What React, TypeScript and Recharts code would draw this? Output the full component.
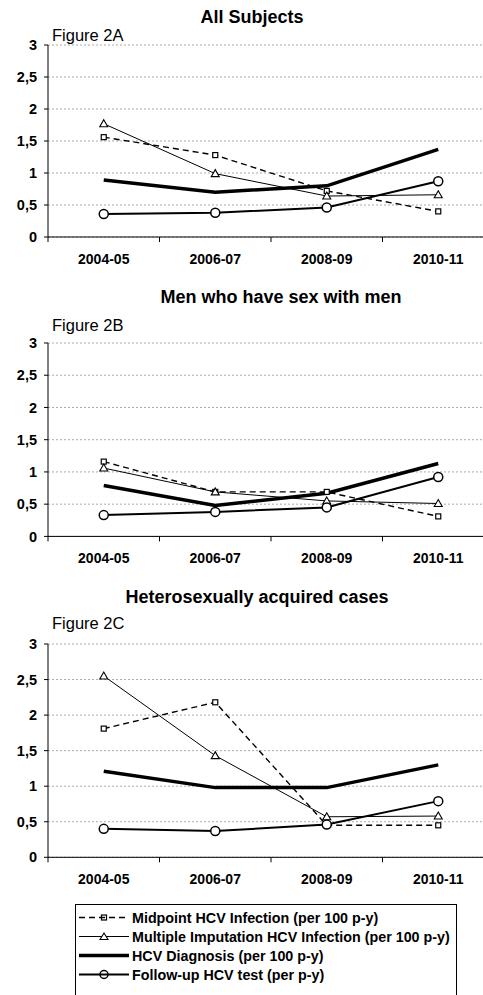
import React from 'react';
import { LineChart, Line, XAxis, YAxis, CartesianGrid } from 'recharts';

const periods = ['2004-05', '2006-07', '2008-09', '2010-11'];
const yTicks = [0, 0.5, 1, 1.5, 2, 2.5, 3];

const seriesNames = [
  'Midpoint HCV Infection (per 100 p-y)',
  'Multiple Imputation HCV Infection (per 100 p-y)',
  'HCV Diagnosis (per 100 p-y)',
  'Follow-up HCV test (per p-y)',
];

// Figure 2A - all subjects
const allMidpoint = [1.56, 1.28, 0.72, 0.4];
const allImputation = [1.77, 0.99, 0.64, 0.66];
const allDiagnosis = [0.89, 0.7, 0.8, 1.37];
const allFollowUp = [0.36, 0.38, 0.46, 0.87];

// Figure 2B - MSM
const msmMidpoint = [1.16, 0.69, 0.69, 0.31];
const msmImputation = [1.06, 0.69, 0.55, 0.51];
const msmDiagnosis = [0.79, 0.48, 0.67, 1.13];
const msmFollowUp = [0.33, 0.38, 0.45, 0.92];

// Figure 2C - heterosexual
const hetMidpoint = [1.81, 2.18, 0.45, 0.45];
const hetImputation = [2.55, 1.43, 0.57, 0.58];
const hetDiagnosis = [1.21, 0.98, 0.98, 1.3];
const hetFollowUp = [0.4, 0.37, 0.46, 0.79];

const FONT = '"Liberation Sans", Arial, sans-serif';
const CHART_W = 500;
const M_LEFT = 8;
const Y_W = 40;
const M_RIGHT = 6;
const PLOT_W = CHART_W - M_LEFT - Y_W - M_RIGHT;
const HALF_BAND = PLOT_W / periods.length / 2;

const buildRows = (mid: number[], mi: number[], diag: number[], fu: number[]) =>
  periods.map((p, i) => ({ period: p, mid: mid[i], mi: mi[i], diag: diag[i], fu: fu[i] }));

const SquareDot = (p: any) => (
  <rect key={`sq-${p.index}`} x={p.cx - 2.5} y={p.cy - 2.5} width={5} height={5} fill="#fff" stroke="#000" strokeWidth={1.2} />
);

const TriangleDot = (p: any) => (
  <path
    key={`tr-${p.index}`}
    d={`M${p.cx},${p.cy - 4} L${p.cx + 4},${p.cy + 3} L${p.cx - 4},${p.cy + 3} Z`}
    fill="#fff"
    stroke="#000"
    strokeWidth={1.1}
  />
);

const CircleDot = (p: any) => (
  <circle key={`ci-${p.index}`} cx={p.cx} cy={p.cy} r={4.5} fill="#fff" stroke="#000" strokeWidth={1.5} />
);

const XTick = (props: any) => {
  const { x, y, payload, index } = props;
  return (
    <g>
      <line x1={x - HALF_BAND} x2={x - HALF_BAND} y1={y} y2={y + 5} stroke="#000" />
      {index === periods.length - 1 && <line x1={x + HALF_BAND} x2={x + HALF_BAND} y1={y} y2={y + 5} stroke="#000" />}
      <text x={x} y={y + 22} textAnchor="middle" dominantBaseline="central" fontWeight="bold" fontSize={14} fontFamily={FONT} fill="#000">
        {payload.value}
      </text>
    </g>
  );
};

type PanelProps = {
  title: string;
  label: string;
  rows: any[];
  plotTop: number;
  plotBottom: number;
  titleX: number;
  titleY: number;
  labelY: number;
};

const Panel: React.FC<PanelProps> = ({ title, label, rows, plotTop, plotBottom, titleX, titleY, labelY }) => {
  const plotH = plotBottom - plotTop;
  return (
    <>
      <div style={{ position: 'absolute', left: titleX - 200, width: 400, top: titleY - 9, textAlign: 'center', fontSize: 18, fontWeight: 'bold', lineHeight: '18px' }}>
        {title}
      </div>
      <div style={{ position: 'absolute', left: 52, top: labelY - 8, fontSize: 16.5, lineHeight: '16.5px' }}>{label}</div>
      <div style={{ position: 'absolute', left: 0, top: plotTop - 10 }}>
        <LineChart width={CHART_W} height={plotH + 50} data={rows} margin={{ top: 10, right: M_RIGHT, bottom: 0, left: M_LEFT }}>
          <CartesianGrid horizontal vertical={false} stroke="#aaa" strokeDasharray="2 2" />
          <XAxis
            dataKey="period"
            height={40}
            interval={0}
            padding={{ left: HALF_BAND, right: HALF_BAND }}
            axisLine={{ stroke: '#000' }}
            tickLine={false}
            tickSize={0}
            tickMargin={0}
            tick={<XTick />}
          />
          <YAxis
            type="number"
            domain={[0, 3]}
            ticks={yTicks}
            width={Y_W}
            axisLine={{ stroke: '#000' }}
            tickLine={{ stroke: '#000' }}
            tickSize={4}
            tickMargin={7}
            tickFormatter={(v: number) => String(v).replace('.', ',')}
            tick={{ fill: '#000', fontSize: 14.5, fontWeight: 'bold', fontFamily: FONT }}
          />
          <Line name={seriesNames[2]} dataKey="diag" stroke="#000" strokeWidth={3.5} dot={false} isAnimationActive={false} />
          <Line name={seriesNames[0]} dataKey="mid" stroke="#000" strokeWidth={1.4} strokeDasharray="6 4" dot={SquareDot} isAnimationActive={false} />
          <Line name={seriesNames[1]} dataKey="mi" stroke="#000" strokeWidth={1} dot={TriangleDot} isAnimationActive={false} />
          <Line name={seriesNames[3]} dataKey="fu" stroke="#000" strokeWidth={2} dot={CircleDot} isAnimationActive={false} />
        </LineChart>
      </div>
    </>
  );
};

const LegendSample = ({ index }: { index: number }) => (
  <svg width={50} height={19} style={{ display: 'block', flex: 'none' }}>
    {index === 0 && <line x1={0} x2={50} y1={9.5} y2={9.5} stroke="#000" strokeWidth={1.4} strokeDasharray="6 4" />}
    {index === 1 && <line x1={0} x2={50} y1={9.5} y2={9.5} stroke="#000" strokeWidth={1} />}
    {index === 2 && <line x1={0} x2={50} y1={9.5} y2={9.5} stroke="#000" strokeWidth={3.5} />}
    {index === 3 && <line x1={0} x2={50} y1={9.5} y2={9.5} stroke="#000" strokeWidth={2} />}
    {index === 0 && <rect x={22.5} y={7} width={5} height={5} fill="none" stroke="#000" strokeWidth={1.2} />}
    {index === 1 && <path d="M25,6 L29,12.5 L21,12.5 Z" fill="#fff" stroke="#000" strokeWidth={1.1} />}
    {index === 3 && <circle cx={25} cy={9.5} r={4} fill="none" stroke="#000" strokeWidth={1.5} />}
  </svg>
);

export default function App() {
  return (
    <div style={{ position: 'absolute', left: 0, top: 0, width: 483, height: 995, overflow: 'hidden', background: '#fff', fontFamily: FONT, color: '#000' }}>
      <Panel title="All Subjects" label="Figure 2A" rows={buildRows(allMidpoint, allImputation, allDiagnosis, allFollowUp)} plotTop={45} plotBottom={237} titleX={252} titleY={17} labelY={35} />
      <Panel title="Men who have sex with men" label="Figure 2B" rows={buildRows(msmMidpoint, msmImputation, msmDiagnosis, msmFollowUp)} plotTop={343.3} plotBottom={536.7} titleX={281} titleY={297} labelY={325} />
      <Panel title="Heterosexually acquired cases" label="Figure 2C" rows={buildRows(hetMidpoint, hetImputation, hetDiagnosis, hetFollowUp)} plotTop={644} plotBottom={857.3} titleX={257} titleY={597} labelY={623} />
      <div style={{ position: 'absolute', left: 75, top: 904, width: 382, height: 100, border: '1px solid #000', background: '#fff', paddingTop: 3, boxSizing: 'border-box' }}>
        {seriesNames.map((name, i) => (
          <div key={name} style={{ display: 'flex', alignItems: 'center', height: 19, paddingLeft: 3 }}>
            <LegendSample index={i} />
            <span style={{ marginLeft: 3, fontSize: 14.3, fontWeight: 'bold', whiteSpace: 'nowrap' }}>{name}</span>
          </div>
        ))}
      </div>
    </div>
  );
}
